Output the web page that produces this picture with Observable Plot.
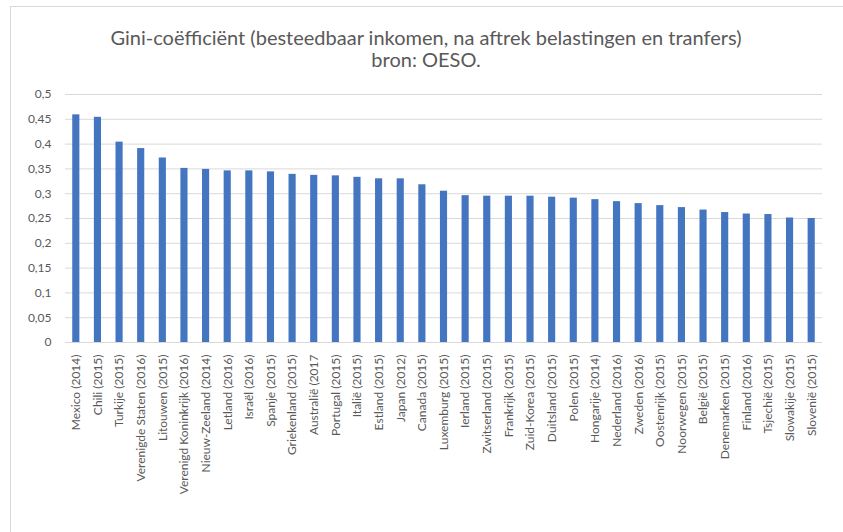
<!DOCTYPE html>
<html>
<head>
<meta charset="utf-8">
<script src="https://cdn.jsdelivr.net/npm/d3@7"></script>
<script src="https://cdn.jsdelivr.net/npm/@observablehq/plot@0.6"></script>
<style>
  html, body { margin: 0; padding: 0; background: #fff; }
  #wrap { position: relative; width: 843px; height: 532px; overflow: hidden; font-family: Lato, "Open Sans", sans-serif; }
  #frame { position: absolute; left: 10px; top: 6px; width: 845px; height: 540px; border: 1px solid #d9d9d9; box-sizing: border-box; }
  #title { position: absolute; left: 0; top: 26px; width: 852px; text-align: center; font-size: 20px; line-height: 22px; color: #595959; }
  #chart { position: absolute; left: 0; top: 80px; }
</style>
</head>
<body>
<div id="wrap">
  <div id="frame"></div>
  <div id="title">Gini-coëfficiënt (besteedbaar inkomen, na aftrek belastingen en tranfers)<br>bron: OESO.</div>
  <div id="chart"></div>
</div>
<script>
const countries = [
  "Mexico (2014)", "Chili (2015)", "Turkije (2015)", "Verenigde Staten (2016)", "Litouwen (2015)",
  "Verenigd Koninkrijk (2016)", "Nieuw-Zeeland (2014)", "Letland (2016)", "Israël (2016)", "Spanje (2015)",
  "Griekenland (2015)", "Australië (2017", "Portugal (2015)", "Italië (2015)", "Estland (2015)",
  "Japan (2012)", "Canada (2015)", "Luxemburg (2015)", "Ierland (2015)", "Zwitserland (2015)",
  "Frankrijk (2015)", "Zuid-Korea (2015)", "Duitsland (2015)", "Polen (2015)", "Hongarije (2014)",
  "Nederland (2016)", "Zweden (2016)", "Oostenrijk (2015)", "Noorwegen (2015)", "België (2015)",
  "Denemarken (2015)", "Finland (2016)", "Tsjechië (2015)", "Slowakije (2015)", "Slovenië (2015)"
];
const gini = [
  0.459, 0.454, 0.404, 0.391, 0.372,
  0.351, 0.349, 0.346, 0.346, 0.344,
  0.339, 0.337, 0.336, 0.333, 0.330,
  0.330, 0.318, 0.305, 0.296, 0.295,
  0.295, 0.295, 0.293, 0.291, 0.288,
  0.284, 0.280, 0.276, 0.272, 0.267,
  0.262, 0.259, 0.258, 0.251, 0.250
];
const yTicks = [0, 0.05, 0.1, 0.15, 0.2, 0.25, 0.3, 0.35, 0.4, 0.45, 0.5];

const data = countries.map((c, i) => ({country: c, value: gini[i]}));
const fmt = v => String(+v.toFixed(2)).replace(".", ",");

const chart = Plot.plot({
  width: 843,
  height: 450,
  marginTop: 14,
  marginBottom: 188,
  marginLeft: 65,
  marginRight: 21,
  style: { fontFamily: "Lato, 'Open Sans', sans-serif", fontSize: "12px", color: "#595959", background: "transparent" },
  x: { domain: countries, paddingInner: 0.67, paddingOuter: 0.335, round: false, label: null },
  y: { domain: [0, 0.5], label: null },
  marks: [
    Plot.gridY(yTicks, { stroke: "#d9d9d9", strokeOpacity: 1, strokeWidth: 1 }),
    Plot.axisY(yTicks, { tickSize: 0, tickPadding: 14, tickFormat: fmt, fontSize: 12, fill: "#595959" }),
    Plot.axisX({ tickSize: 0, tickPadding: 12, tickRotate: -90, fontSize: 12, fill: "#595959" }),
    Plot.barY(data, { x: "country", y: "value", fill: "#4475c0" })
  ]
});
document.getElementById("chart").appendChild(chart);
</script>
</body>
</html>
